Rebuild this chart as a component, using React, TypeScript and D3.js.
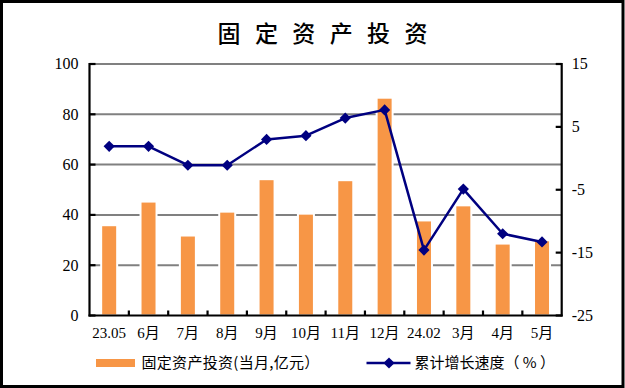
import React, { useEffect, useRef } from 'react';
import * as d3 from 'd3';

const title = '固定资产投资';
const categories = ['23.05', '6月', '7月', '8月', '9月', '10月', '11月', '12月', '24.02', '3月', '4月', '5月'];
const investment = [35.5, 44.9, 31.4, 40.9, 53.8, 40.1, 53.4, 86.2, 37.4, 43.4, 28.2, 29.5];
const growth = [1.9, 1.9, -1.1, -1.1, 3.0, 3.6, 6.4, 7.7, -14.6, -4.9, -12.0, -13.3];
const leftTicks = [0, 20, 40, 60, 80, 100];
const rightTicks = [-25, -15, -5, 5, 15];
const barLabel = '固定资产投资(当月,亿元）';
const lineLabel = '累计增长速度（ % ）';

const WIDTH = 625;
const HEIGHT = 388;
const BAR_COLOR = '#F79646';
const LINE_COLOR = '#000080';
const SERIF = '"Liberation Serif", "Times New Roman", "Noto Sans CJK SC", serif';
const CJK = '"Noto Sans CJK SC", "Liberation Serif", sans-serif';

const App: React.FC = () => {
  const svgRef = useRef<SVGSVGElement>(null);

  useEffect(() => {
    if (!svgRef.current) return;
    const svg = d3.select(svgRef.current);
    svg.selectAll('*').remove();

    const plot = { left: 89.5, right: 561.7, top: 64, bottom: 315.5 };

    const x = d3.scaleBand<string>()
      .domain(categories)
      .range([plot.left, plot.right])
      .padding(0);

    const yLeft = d3.scaleLinear().domain([0, 100]).range([plot.bottom, plot.top]);
    const yRight = d3.scaleLinear().domain([-25, 15]).range([plot.bottom, plot.top]);

    // outer frame
    svg.append('rect')
      .attr('x', 1.5).attr('y', 1.5)
      .attr('width', WIDTH - 3.5).attr('height', HEIGHT - 3)
      .attr('fill', '#fff')
      .attr('stroke', '#000')
      .attr('stroke-width', 3);

    // title, spaced out char by char
    const chars = title.split('');
    const pitch = 37.4;
    svg.append('g')
      .selectAll('text')
      .data(chars)
      .enter()
      .append('text')
      .attr('x', (_, i) => 322.5 + (i - (chars.length - 1) / 2) * pitch)
      .attr('y', 42)
      .attr('text-anchor', 'middle')
      .attr('font-family', CJK)
      .attr('font-size', 23)
      .attr('font-weight', 500)
      .attr('fill', '#000')
      .text(d => d);

    // grid lines
    svg.append('g')
      .selectAll('line')
      .data(leftTicks.filter(d => d > 0))
      .enter()
      .append('line')
      .attr('x1', plot.left)
      .attr('x2', plot.right)
      .attr('y1', d => yLeft(d))
      .attr('y2', d => yLeft(d))
      .attr('stroke', '#808080')
      .attr('stroke-width', 2);

    // bars with a thin white outline
    const barW = 14;
    const outline = 2;
    svg.append('g')
      .selectAll('rect')
      .data(investment)
      .enter()
      .append('rect')
      .attr('x', (_, i) => (x(categories[i]) as number) + x.bandwidth() / 2 - barW / 2 - outline / 2)
      .attr('y', d => yLeft(d) - outline / 2)
      .attr('width', barW + outline)
      .attr('height', d => plot.bottom - yLeft(d) + outline / 2)
      .attr('fill', BAR_COLOR)
      .attr('stroke', '#fff')
      .attr('stroke-width', outline);

    // axes lines
    const axes = svg.append('g').attr('stroke', '#000').attr('stroke-width', 2.2);
    axes.append('line')
      .attr('x1', plot.left).attr('x2', plot.left)
      .attr('y1', plot.top - 1).attr('y2', plot.bottom + 1);
    axes.append('line')
      .attr('x1', plot.right).attr('x2', plot.right)
      .attr('y1', plot.top - 1).attr('y2', plot.bottom + 1);
    axes.append('line')
      .attr('x1', plot.left - 1).attr('x2', plot.right + 1)
      .attr('y1', plot.bottom).attr('y2', plot.bottom);

    // ticks (inward)
    const tickLen = 6;
    axes.selectAll('.lt')
      .data(leftTicks)
      .enter()
      .append('line')
      .attr('class', 'lt')
      .attr('x1', plot.left).attr('x2', plot.left + tickLen)
      .attr('y1', d => yLeft(d)).attr('y2', d => yLeft(d));
    axes.selectAll('.rt')
      .data(rightTicks)
      .enter()
      .append('line')
      .attr('class', 'rt')
      .attr('x1', plot.right - tickLen).attr('x2', plot.right)
      .attr('y1', d => yRight(d)).attr('y2', d => yRight(d));
    axes.selectAll('.bt')
      .data(categories.slice(1))
      .enter()
      .append('line')
      .attr('class', 'bt')
      .attr('x1', d => x(d) as number).attr('x2', d => x(d) as number)
      .attr('y1', plot.bottom).attr('y2', plot.bottom - 5);

    // tick labels
    svg.append('g')
      .selectAll('text')
      .data(leftTicks)
      .enter()
      .append('text')
      .attr('x', plot.left - 11)
      .attr('y', d => yLeft(d))
      .attr('dy', '0.34em')
      .attr('text-anchor', 'end')
      .attr('font-family', SERIF)
      .attr('font-size', 16)
      .text(d => d);

    svg.append('g')
      .selectAll('text')
      .data(rightTicks)
      .enter()
      .append('text')
      .attr('x', plot.right + 10)
      .attr('y', d => yRight(d))
      .attr('dy', '0.34em')
      .attr('text-anchor', 'start')
      .attr('font-family', SERIF)
      .attr('font-size', 16)
      .text(d => d);

    svg.append('g')
      .selectAll('text')
      .data(categories)
      .enter()
      .append('text')
      .attr('x', d => (x(d) as number) + x.bandwidth() / 2)
      .attr('y', 337.5)
      .attr('text-anchor', 'middle')
      .attr('font-family', SERIF)
      .attr('font-size', 15)
      .text(d => d);

    // growth line
    const line = d3.line<number>()
      .x((_, i) => (x(categories[i]) as number) + x.bandwidth() / 2)
      .y(d => yRight(d));

    svg.append('path')
      .datum(growth)
      .attr('fill', 'none')
      .attr('stroke', LINE_COLOR)
      .attr('stroke-width', 2.5)
      .attr('stroke-linejoin', 'round')
      .attr('d', line);

    const diamond = (cx: number, cy: number, r: number) =>
      `M${cx},${cy - r}L${cx + r},${cy}L${cx},${cy + r}L${cx - r},${cy}Z`;

    svg.append('g')
      .selectAll('path')
      .data(growth)
      .enter()
      .append('path')
      .attr('d', (d, i) => diamond((x(categories[i]) as number) + x.bandwidth() / 2, yRight(d), 5.6))
      .attr('fill', LINE_COLOR);

    // legend
    const legend = svg.append('g');
    legend.append('rect')
      .attr('x', 96).attr('y', 359)
      .attr('width', 39).attr('height', 8)
      .attr('fill', BAR_COLOR);
    legend.append('text')
      .attr('x', 141.5).attr('y', 367.5)
      .attr('font-family', CJK)
      .attr('font-size', 15)
      .attr('letter-spacing', 0.3)
      .attr('fill', '#000')
      .text(barLabel);
    legend.append('line')
      .attr('x1', 366.5).attr('x2', 410.5)
      .attr('y1', 363).attr('y2', 363)
      .attr('stroke', LINE_COLOR)
      .attr('stroke-width', 2.5);
    legend.append('path')
      .attr('d', diamond(389, 363, 5.6))
      .attr('fill', LINE_COLOR);
    legend.append('text')
      .attr('x', 414.5).attr('y', 367.5)
      .attr('font-family', CJK)
      .attr('font-size', 15)
      .attr('fill', '#000')
      .attr('xml:space', 'preserve')
      .text(lineLabel);
  }, []);

  return (
    <svg
      ref={svgRef}
      width={WIDTH}
      height={HEIGHT}
      style={{ position: 'absolute', left: 0, top: 0, display: 'block' }}
    />
  );
};

export default App;
